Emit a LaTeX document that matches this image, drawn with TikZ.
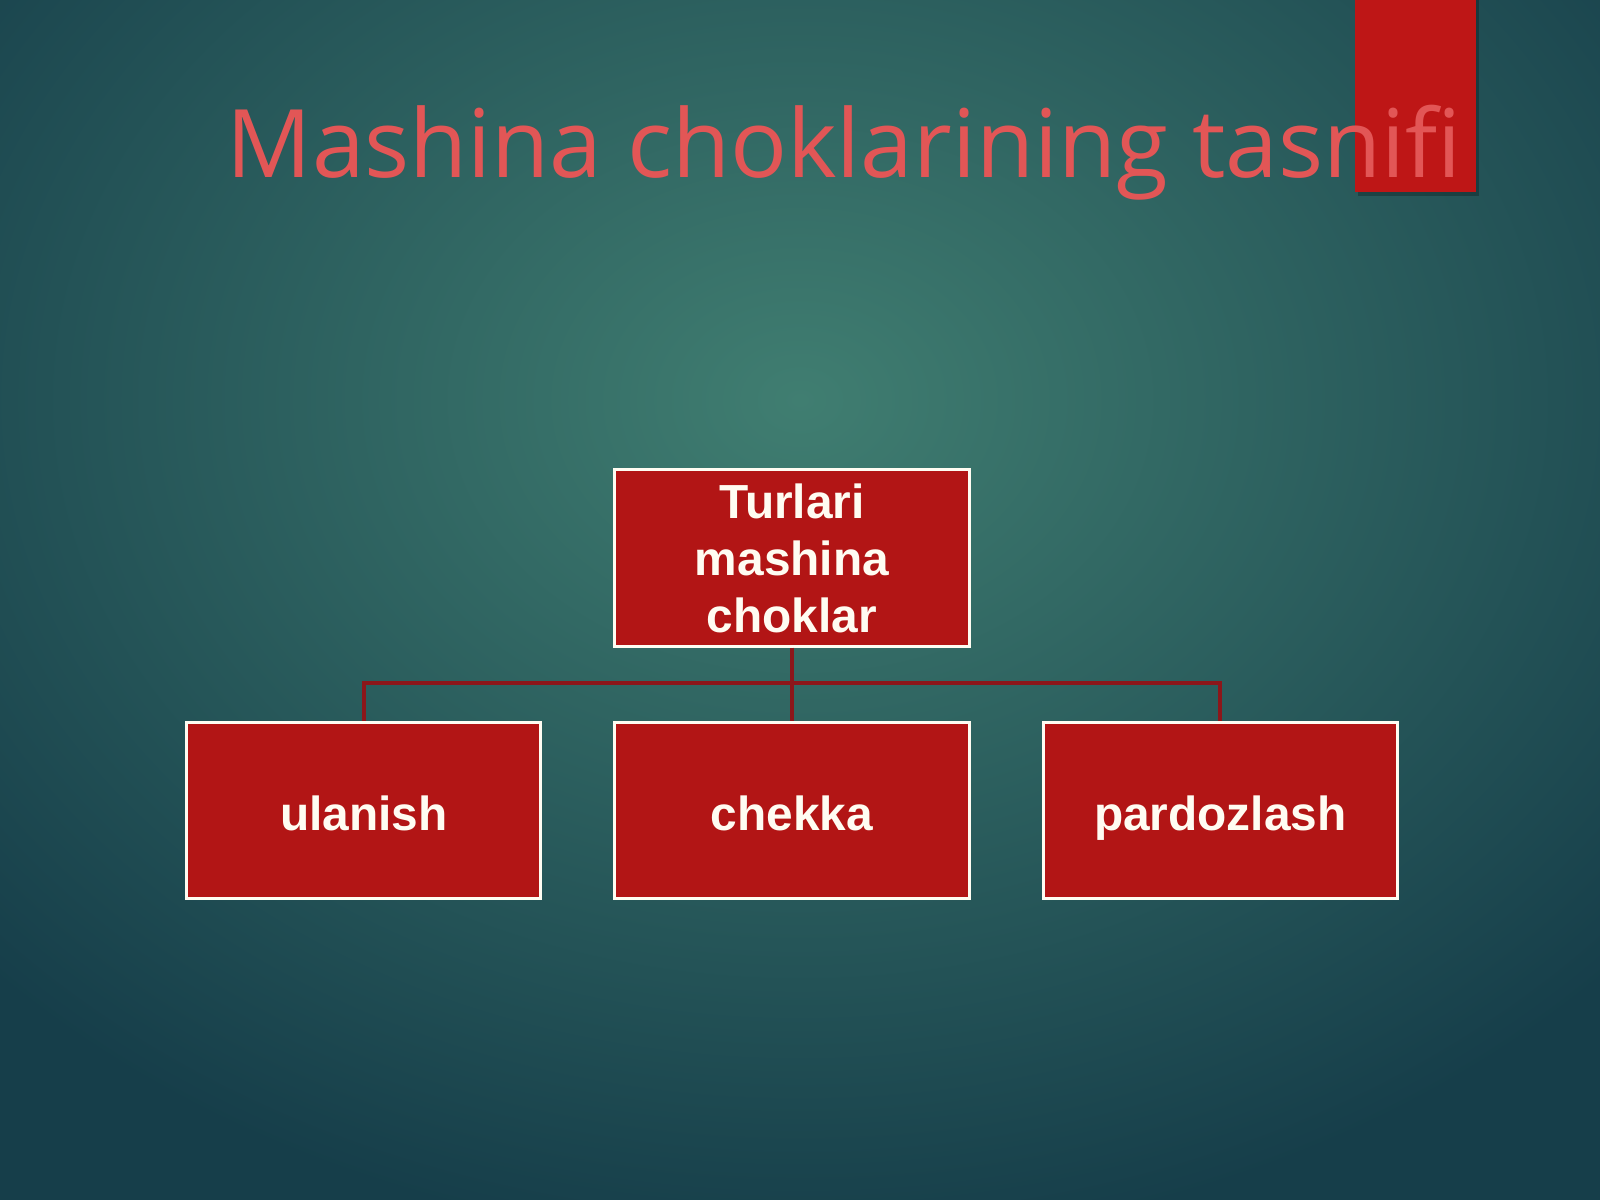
\documentclass[tikz,border=0pt]{standalone}
\usepackage{fontspec}
\setmainfont{Liberation Sans}
\newfontfamily\titlefont{Open Sans}
\usetikzlibrary{positioning}
\definecolor{tealin}{RGB}{64, 126, 113}
\definecolor{tealout}{RGB}{22, 62, 74}
\definecolor{boxred}{RGB}{178, 21, 21}
\definecolor{tabred}{RGB}{190, 22, 22}
\definecolor{linkred}{RGB}{140, 22, 26}
\definecolor{titlered}{RGB}{226, 86, 86}
\definecolor{cream}{RGB}{255, 252, 242}

\begin{document}
\begin{tikzpicture}
  [
    x = 0.01cm,
    y = -0.01cm,
    node distance = 0.73cm and 0.71cm
  ]
  % background
  \useasboundingbox (0,0) rectangle (1600,1200);
  \shade[inner color=tealin, outer color=tealout] (-300,-450) rectangle (1900,1250);
  % red tab and title
  \fill[black, opacity=0.25] (1358,0) rectangle (1479,196);
  \fill[tabred] (1355,0) rectangle (1476,192);
  \node [anchor=base west, inner sep=0pt, text=titlered,
         font=\titlefont\fontsize{26.9}{32}\selectfont] (title) at (226,177)
        {Mashina choklarining tasnifi};
  \begin{scope}[box/.style={rectangle, draw=cream, line width=0.85pt, fill=boxred,
                  text=cream, align=center, minimum width=3.54cm, minimum height=1.76cm,
                  font=\bfseries\fontsize{13.6}{16.2}\selectfont},
                leaf/.style={box, text height=11.4pt, text depth=0pt},
                conn/.style={draw=linkred, line width=1pt}]
  \node [box] (tur) at (792,558) {Turlari\\mashina\\choklar};
  \node [leaf] (ch) [below=of tur] {chekka};
  \node [leaf] (ul) [left=of ch] {ulanish};
  \node [leaf] (pd) [right=of ch] {pardozlash};
  \coordinate (bus) at (792,683);
  \path[conn] (tur) -- (ch);
  \path[conn] (ul.north) |- (bus) -| (pd.north);
  \end{scope}
\end{tikzpicture}
\end{document}
